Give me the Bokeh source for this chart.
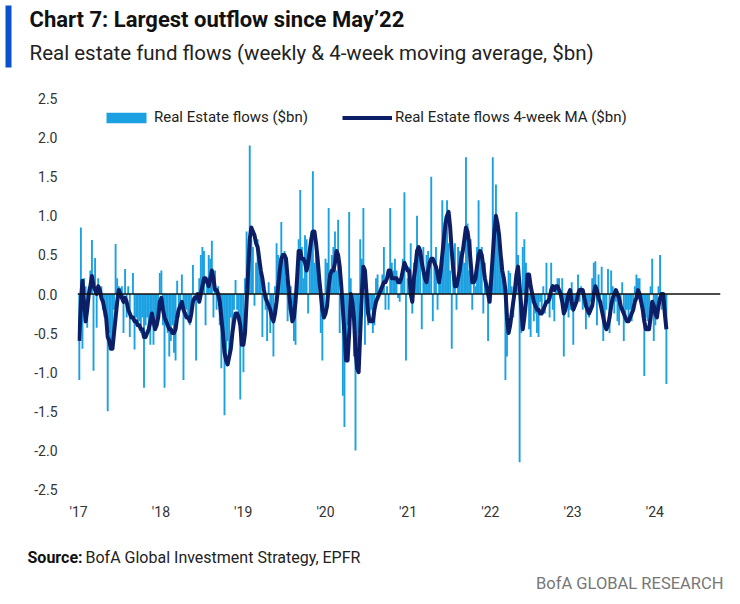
import pandas as pd
from bokeh.plotting import figure
from bokeh.layouts import column
from bokeh.models import (ColumnDataSource, Range1d, Span, Legend, LegendItem,
                          FixedTicker, NumeralTickFormatter)
from bokeh.core.properties import value
from bokeh.embed import file_html
from bokeh.resources import INLINE

# ---------------- data ----------------
first_week = "2017-01-04"

flows = [
    -1.1, 0.85, -0.7, 0.2, 0.1, -0.43, 0.1, 0.3, 0.69, -0.98,
    0.46, -0.43, 0.2, 0.05, 0.1, -0.2, -0.3, -0.4, -1.5, -0.5,
    -0.6, -0.7, -0.2, 0.64, 0.2, 0.1, 0.08, 0.1, -0.5, 0.32,
    -0.3, 0.1, -0.55, 0.0, 0.27, -0.71, -0.3, -0.4, -0.35, -0.5,
    -0.3, -1.2, -0.4, -0.3, -0.5, -0.65, -0.4, -0.65, -0.45, -0.3,
    -0.2, 0.27, 0.3, -0.4, -1.2, -0.3, -0.5, -0.8, -0.6, -0.4,
    -0.75, -0.85, 0.17, -0.3, -0.1, 0.25, -1.1, -0.3, -0.2, -0.3,
    -0.4, -0.2, 0.37, -0.1, -0.85, 0.0, 0.2, 0.5, 0.6, 0.55,
    -0.4, 0.2, 0.5, 0.45, 0.68, -0.3, 0.3, -0.2, 0.1, -0.4,
    -0.95, -0.6, -1.55, -0.9, -0.6, -0.75, -0.3, -0.5, -0.2, 0.18,
    -0.2, -0.35, -1.35, -0.5, -1.0, 0.2, 0.8, 0.5, 1.9, 0.7,
    0.6, -0.15, 0.4, 0.7, 0.55, 0.2, -0.55, 0.1, -0.2, -0.6,
    0.15, -0.5, -0.3, -0.8, 0.1, 0.65, 0.5, 0.3, 0.92, 0.5,
    0.55, 0.2, -0.35, -0.2, 0.1, -0.3, -0.6, -0.65, 0.4, 0.7,
    1.33, 0.6, 0.2, 0.75, 0.7, -0.25, 0.6, 0.8, 1.57, 0.4,
    0.75, 0.3, 0.0, -0.5, -0.85, -0.3, 0.45, 0.4, 1.1, 0.2,
    0.5, 0.6, 0.8, 0.3, 0.95, -0.5, 0.1, -1.3, -1.7, -0.8,
    -0.4, 1.05, 0.2, -0.3, -0.8, -2.0, -0.9, -0.5, 0.7, 0.45,
    1.1, -0.65, 0.1, -0.4, -0.35, -0.2, -0.5, -0.4, 0.2, 0.25,
    0.0, 0.1, 0.25, 0.6, -0.2, 0.1, -0.2, 1.1, 0.4, 0.3,
    0.45, 0.3, -0.05, -0.1, 0.2, 0.45, 1.3, -0.85, 0.2, 0.35,
    0.65, -0.25, 0.4, 0.3, 1.0, 0.6, 0.6, -0.45, 0.6, 0.2,
    0.5, 0.55, 0.3, 1.5, -0.35, 0.45, 0.6, -0.2, 0.3, 0.15,
    1.2, 0.7, 1.0, 1.2, 0.65, 0.3, -0.7, 0.2, 0.65, -0.2,
    0.6, 0.55, 0.5, 0.6, 0.4, 1.75, 0.9, 0.3, 0.7, -0.2,
    0.2, 0.1, 0.6, 1.2, 0.5, 0.6, -0.25, 0.4, 0.1, -0.6,
    0.15, 0.2, 1.75, 0.7, 1.4, 0.9, 0.6, 0.5, 0.45, 0.2,
    -1.1, -0.8, 0.3, 0.27, 0.1, -0.3, 0.2, 1.05, 0.5, -2.15,
    -0.5, 0.6, 0.7, 0.4, -0.1, -0.45, -0.55, 0.0, -0.35, -0.25,
    -0.5, -0.55, -0.1, -0.2, 0.1, -0.25, 0.4, -0.1, -0.3, 0.4,
    -0.2, -0.35, 0.1, 0.2, 0.2, 0.05, 0.2, -0.8, -0.2, -0.1,
    -0.3, -0.2, 0.15, -0.65, -0.1, 0.0, 0.25, -0.1, 0.1, -0.2,
    -0.1, -0.45, -0.2, -0.3, -0.1, 0.2, 0.4, 0.42, -0.4, 0.25,
    -0.1, 0.35, -0.6, -0.45, -0.2, 0.32, -0.5, 0.3, 0.1, -0.25,
    -0.1, -0.35, -0.4, -0.2, 0.15, -0.6, -0.3, -0.2, -0.3, -0.2,
    -0.35, -0.1, 0.1, 0.25, 0.2, 0.2, -0.1, -0.3, -1.05, -0.3,
    -0.35, -0.35, 0.1, 0.45, -0.6, -0.4, -0.2, 0.1, 0.5, -0.2,
    0.0, -0.3, -1.15,
]

ma4 = [
    -0.6, -0.1, 0.17, -0.1, -0.35, -0.2, 0.0, 0.1, 0.23, 0.1,
    0.05, 0.0, 0.1, 0.05, -0.05, -0.1, -0.2, -0.3, -0.55, -0.6,
    -0.7, -0.7, -0.5, -0.3, -0.1, 0.05, 0.0, -0.05, -0.1, -0.05,
    -0.1, -0.2, -0.25, -0.3, -0.3, -0.35, -0.35, -0.4, -0.4, -0.45,
    -0.45, -0.55, -0.55, -0.5, -0.45, -0.35, -0.25, -0.35, -0.45, -0.4,
    -0.3, -0.1, -0.05, -0.2, -0.3, -0.35, -0.4, -0.45, -0.45, -0.5,
    -0.5, -0.45, -0.3, -0.2, -0.15, -0.1, -0.2, -0.25, -0.3, -0.3,
    -0.35, -0.25, -0.1, -0.05, -0.05, 0.0, -0.1, 0.0, 0.1, 0.2,
    0.2, 0.15, 0.1, 0.2, 0.3, 0.2, 0.05, 0.05, 0.0, -0.1,
    -0.3, -0.5, -0.75, -0.85, -0.9, -0.8, -0.7, -0.5, -0.35, -0.25,
    -0.25, -0.3, -0.4, -0.65, -0.65, -0.5, -0.1, 0.3, 0.7, 0.85,
    0.8, 0.75, 0.65, 0.6, 0.45, 0.3, 0.2, 0.05, -0.05, -0.1,
    -0.15, -0.2, -0.3, -0.35, -0.25, -0.1, 0.1, 0.3, 0.45, 0.5,
    0.5, 0.45, 0.2, 0.0, -0.2, -0.35, -0.3, -0.1, 0.2, 0.55,
    0.55, 0.45, 0.45, 0.4, 0.3, 0.4, 0.55, 0.7, 0.8, 0.8,
    0.65, 0.45, 0.2, 0.0, -0.2, -0.3, -0.25, -0.15, 0.1, 0.25,
    0.3, 0.3, 0.4, 0.55, 0.5, 0.35, 0.1, -0.2, -0.5, -0.85,
    -0.85, -0.5, 0.0, -0.1, -0.3, -0.7, -0.95, -1.0, -0.5, 0.0,
    0.35, 0.3, 0.0, -0.25, -0.35, -0.35, -0.35, -0.2, -0.1, -0.05,
    0.0, 0.05, 0.1, 0.15, 0.15, 0.2, 0.3, 0.3, 0.2, 0.2,
    0.2, 0.2, 0.15, 0.15, 0.2, 0.3, 0.4, 0.35, 0.3, 0.3,
    0.0, -0.1, 0.2, 0.35, 0.55, 0.6, 0.55, 0.4, 0.3, 0.2,
    0.15, 0.3, 0.4, 0.45, 0.45, 0.4, 0.35, 0.25, 0.15, 0.3,
    0.5, 0.7, 0.9, 1.0, 1.05, 0.85, 0.55, 0.3, 0.1, 0.1,
    0.2, 0.3, 0.45, 0.55, 0.7, 0.85, 0.8, 0.65, 0.4, 0.15,
    0.15, 0.2, 0.35, 0.5, 0.55, 0.5, 0.35, 0.2, 0.1, 0.0,
    -0.1, 0.2, 0.5, 0.8, 1.0, 0.9, 0.75, 0.5, 0.3, 0.2,
    0.05, -0.3, -0.5, -0.4, -0.25, -0.1, 0.05, 0.25, 0.35, 0.1,
    -0.15, -0.45, -0.3, -0.1, 0.25, 0.25, 0.1, 0.0, -0.1, -0.15,
    -0.2, -0.2, -0.25, -0.25, -0.2, -0.15, -0.1, -0.1, -0.05, 0.05,
    0.1, 0.05, 0.1, 0.1, 0.05, 0.0, -0.1, -0.25, -0.2, -0.1,
    0.0, 0.05, -0.1, -0.2, -0.15, -0.1, 0.0, 0.05, 0.05, 0.05,
    -0.05, -0.15, -0.2, -0.25, -0.2, -0.15, 0.0, 0.1, 0.05, -0.05,
    -0.1, -0.2, -0.3, -0.4, -0.45, -0.4, -0.3, -0.15, -0.05, 0.0,
    0.05, 0.0, -0.05, -0.15, -0.2, -0.25, -0.3, -0.35, -0.35, -0.3,
    -0.25, -0.2, -0.1, -0.05, 0.05, 0.0, -0.1, -0.2, -0.35, -0.45,
    -0.45, -0.45, -0.3, -0.1, -0.15, -0.25, -0.3, -0.15, -0.05, 0.0,
    0.0, -0.25, -0.45,
]

year_ticks = ["2017-01-01", "2018-01-01", "2019-01-01", "2020-01-01",
              "2021-01-01", "2022-01-01", "2023-01-01", "2024-01-01"]
year_labels = ["'17", "'18", "'19", "'20", "'21", "'22", "'23", "'24"]
y_ticks = [-2.5, -2.0, -1.5, -1.0, -0.5, 0.0, 0.5, 1.0, 1.5, 2.0, 2.5]

title_text = "Chart 7: Largest outflow since May\u201922"
subtitle_text = "Real estate fund flows (weekly & 4-week moving average, $bn)"
source_bold = "Source:"
source_text = "BofA Global Investment Strategy, EPFR"
brand_text = "BofA GLOBAL RESEARCH"

# ---------------- styling ----------------
BAR_C = "#1BA1E2"
MA_C = "#0C1F66"
FONT = "Roboto"
W = 740
HEAD_H = 70
FOOT_H = 69
MAIN_H = 604 - HEAD_H - FOOT_H


def blank(h):
    f = figure(width=W, height=h, x_range=Range1d(0, W), y_range=Range1d(h, 0),
               output_backend="svg", toolbar_location=None,
               x_axis_location=None, y_axis_location=None,
               min_border_left=0, min_border_right=0, min_border_top=0,
               min_border_bottom=0, frame_align=False)
    f.outline_line_color = None
    f.xgrid.visible = False
    f.ygrid.visible = False
    return f


# ---------------- header ----------------
head = blank(HEAD_H)
head.quad(left=[5], right=[11], top=[5], bottom=[67], fill_color="#0A52C9", line_color=None)
head.text(x=[29], y=[19], text=[title_text], text_font=value(FONT), text_font_style="bold",
          text_font_size="22px", text_color="#111111", text_baseline="middle")
head.text(x=[29], y=[52], text=[subtitle_text], text_font=value(FONT),
          text_font_size="20.5px", text_color="#222222", text_baseline="middle")

# ---------------- main chart ----------------
bar_src = ColumnDataSource(dict(
    date=pd.date_range(first_week, periods=len(flows), freq="7D"), v=flows))
ma_src = ColumnDataSource(dict(
    date=pd.date_range(first_week, periods=len(ma4), freq="7D"), v=ma4))

p = figure(width=W, height=MAIN_H, x_axis_type="datetime",
           x_range=Range1d(pd.Timestamp("2016-12-27"), pd.Timestamp("2024-10-18")),
           y_range=Range1d(-2.5, 2.5),
           output_backend="svg", toolbar_location=None, frame_align=False,
           min_border_left=77, min_border_right=20,
           min_border_top=98 - HEAD_H, min_border_bottom=(604 - FOOT_H) - 489)
p.outline_line_color = None
p.xgrid.visible = False
p.ygrid.visible = False

week_ms = 7 * 24 * 3600 * 1000
r_bar = p.vbar(x="date", top="v", bottom=0, width=week_ms * 1.2, source=bar_src,
               fill_color=BAR_C, line_color=None)
p.add_layout(Span(location=0, dimension="width", line_color="#111111", line_width=1.5))
r_ma = p.line(x="date", y="v", source=ma_src, line_color=MA_C, line_width=4.0,
              line_join="round")

tick_ms = [int(pd.Timestamp(d).value // 10**6) for d in year_ticks]
p.xaxis.ticker = FixedTicker(ticks=tick_ms)
p.xaxis.major_label_overrides = {t: l for t, l in zip(tick_ms, year_labels)}
p.yaxis.ticker = FixedTicker(ticks=y_ticks)
p.yaxis.formatter = NumeralTickFormatter(format="0.0")
for ax in (p.xaxis[0], p.yaxis[0]):
    ax.axis_line_color = None
    ax.major_tick_line_color = None
    ax.minor_tick_line_color = None
    ax.major_label_text_font = FONT
    ax.major_label_text_font_size = "14px"
    ax.major_label_text_color = "#333333"
p.xaxis.major_label_standoff = 8
p.yaxis.major_label_standoff = 14

legend = Legend(items=[LegendItem(label="Real Estate flows ($bn)", renderers=[r_bar]),
                       LegendItem(label="Real Estate flows 4-week MA ($bn)", renderers=[r_ma])],
                orientation="horizontal", location=(24, 363),
                glyph_width=50, glyph_height=13, label_standoff=3, spacing=34,
                padding=0, margin=0, border_line_color=None, background_fill_alpha=0,
                label_text_font=FONT, label_text_font_size="15px",
                label_text_color="#222222", label_height=16)
p.add_layout(legend, "center")

# ---------------- footer ----------------
foot = blank(FOOT_H)
foot.text(x=[27], y=[22], text=[source_bold], text_font=value(FONT), text_font_style="bold",
          text_font_size="16px", text_color="#111111", text_baseline="middle")
foot.text(x=[85], y=[22], text=[source_text], text_font=value(FONT),
          text_font_size="16px", text_color="#222222", text_baseline="middle")
foot.text(x=[723], y=[48], text=[brand_text], text_font=value(FONT), text_align="right",
          text_font_size="16.5px", text_color="#777777", text_baseline="middle")

layout = column(head, p, foot, spacing=0)
open("out.html", "w").write(file_html(layout, INLINE))
